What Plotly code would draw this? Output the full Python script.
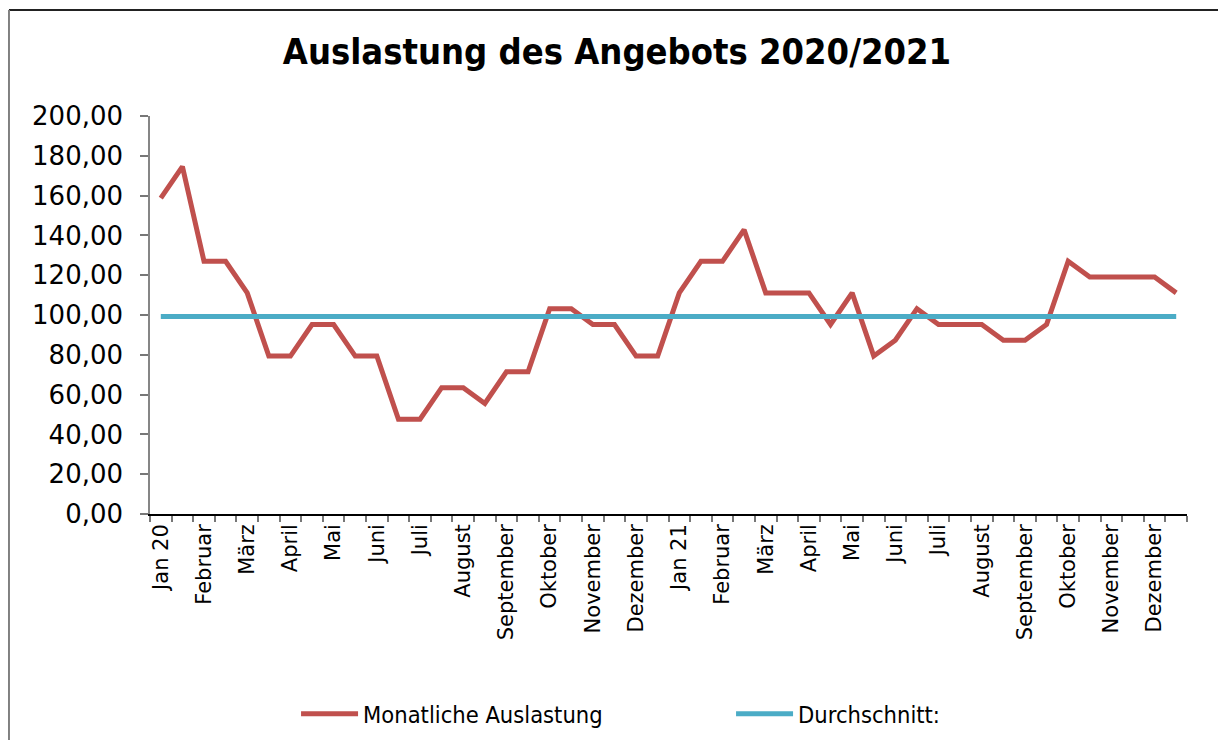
import plotly.graph_objects as go

# half-month data points, two per month, Jan 2020 - Dec 2021
months_2020 = ["Jan 20", "Februar", "März", "April", "Mai", "Juni", "Juli",
               "August", "September", "Oktober", "November", "Dezember"]
months_2021 = ["Jan 21", "Februar", "März", "April", "Mai", "Juni", "Juli",
               "August", "September", "Oktober", "November", "Dezember"]
month_labels = months_2020 + months_2021

auslastung = [158.73, 174.60, 126.98, 126.98, 111.11, 79.37, 79.37, 95.24,
              95.24, 79.37, 79.37, 47.62, 47.62, 63.49, 63.49, 55.56,
              71.43, 71.43, 103.17, 103.17, 95.24, 95.24, 79.37, 79.37,
              111.11, 126.98, 126.98, 142.86, 111.11, 111.11, 111.11, 95.24,
              111.11, 79.37, 87.30, 103.17, 95.24, 95.24, 95.24, 87.30,
              87.30, 95.24, 126.98, 119.05, 119.05, 119.05, 119.05, 111.11]
durchschnitt = [99.2] * len(auslastung)

x = list(range(len(auslastung)))

fig = go.Figure()
fig.add_trace(go.Scatter(x=x, y=auslastung, mode="lines", name="Monatliche Auslastung",
                         line=dict(color="#C0504D", width=5)))
fig.add_trace(go.Scatter(x=x, y=durchschnitt, mode="lines", name="Durchschnitt:",
                         line=dict(color="#4BACC6", width=5)))

# page body has an 8px margin, so the figure is a bit smaller than the window
fig.update_layout(
    width=1218, height=732,
    margin=dict(l=142, r=39, t=108, b=226),
    paper_bgcolor="white", plot_bgcolor="white",
    separators=",.",
    font=dict(family="DejaVu Sans", color="black"),
    title=dict(text="<b>Auslastung des Angebots 2020/2021</b>", x=0.5, xanchor="center",
               y=0.9413, yanchor="middle",
               font=dict(family="DejaVu Sans Condensed, DejaVu Sans", size=36, color="black")),
    showlegend=True,
    legend=dict(orientation="h", xref="container", yref="container",
                x=0.2365, y=0.0355, xanchor="left", yanchor="middle",
                entrywidth=363, itemwidth=57,
                font=dict(family="DejaVu Sans Condensed, DejaVu Sans", size=23.5)),
    shapes=[
        dict(type="line", xref="paper", yref="paper", x0=-0.1360, x1=1.05,
             y0=1.2663, y1=1.2663, line=dict(color="#222222", width=2)),
        dict(type="line", xref="paper", yref="paper", x0=-0.1360, x1=-0.1360,
             y0=1.2663, y1=-0.6, line=dict(color="#808080", width=2)),
    ],
)

fig.update_xaxes(
    range=[-0.5, 47.5],
    tickmode="array", tickvals=x[::2], ticktext=month_labels,
    tickangle=-90, ticks="", ticklen=0,
    tickfont=dict(size=21),
    showline=True, linecolor="black", linewidth=1.5,
    showgrid=False, zeroline=False,
    minor=dict(tickmode="array", tickvals=[i - 0.5 for i in range(49)],
               ticks="outside", ticklen=6, tickcolor="#777777", tickwidth=1.5, showgrid=False),
)
fig.update_yaxes(
    range=[0, 200], tick0=0, dtick=20, tickformat=".2f",
    ticks="outside", ticklen=8, tickcolor="#777777", tickwidth=1.5,
    ticklabelstandoff=12,
    tickfont=dict(size=26),
    showline=True, linecolor="#868686", linewidth=1.5,
    showgrid=False, zeroline=False,
)

fig.write_html("out.html")
